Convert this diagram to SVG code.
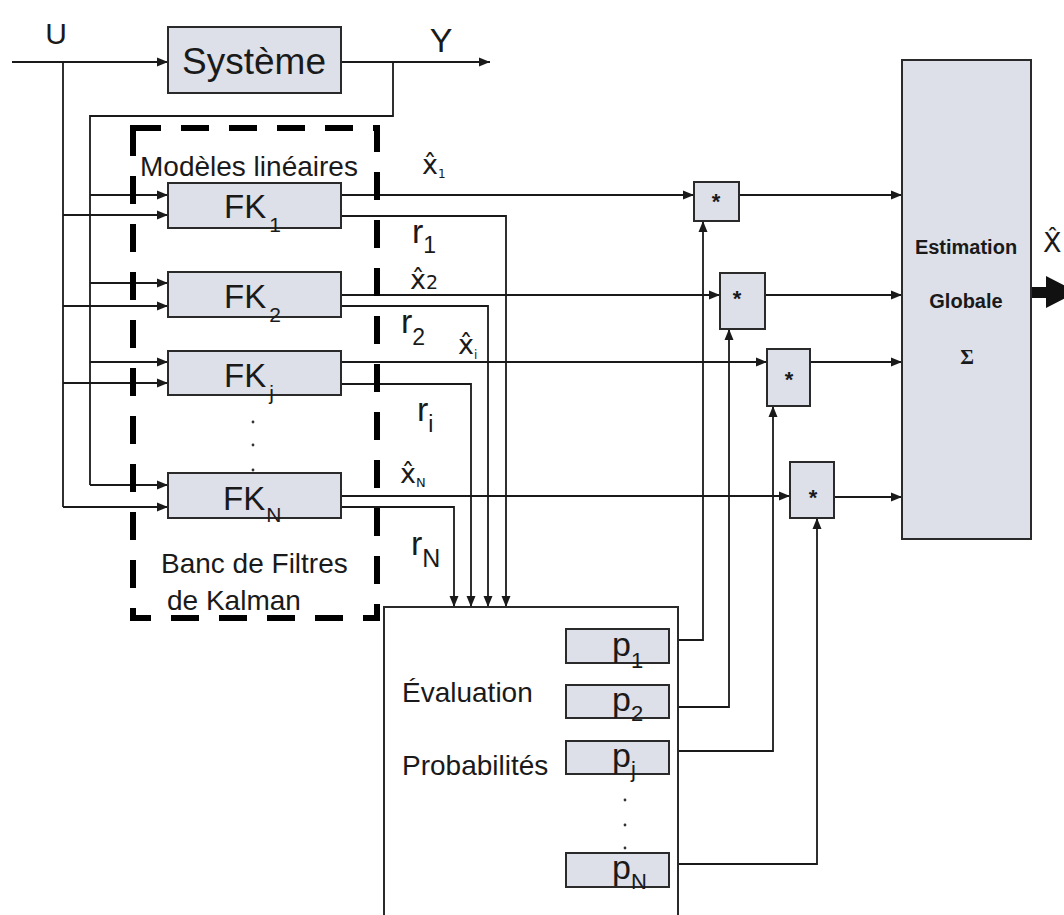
<svg xmlns="http://www.w3.org/2000/svg" width="1064" height="915" viewBox="0 0 1064 915">
<defs>
<marker id="arr" markerUnits="userSpaceOnUse" markerWidth="12" markerHeight="10" refX="11" refY="5" orient="auto">
<path d="M0,0.5 L11,5 L0,9.5 z" fill="#1a1a1a"/>
</marker>
<style>
.ln{fill:none;stroke:#1a1a1a;stroke-width:1.8}
.box{fill:#dde0e9;stroke:#2a2a2a;stroke-width:2}
.wbox{fill:#ffffff;stroke:#2a2a2a;stroke-width:2}
.t{font-family:"Liberation Sans",Arial,sans-serif;fill:#1a1a1a}
.h{font-family:"DejaVu Sans","Liberation Sans",sans-serif;fill:#1a1a1a}
.b{font-weight:bold}
</style>
</defs>
<rect width="1064" height="915" fill="#ffffff"/>

<g id="connectors">
<path class="ln" d="M12,62 H168" marker-end="url(#arr)"/>
<path class="ln" d="M63,62 V507"/>
<path class="ln" d="M63,215 H168" marker-end="url(#arr)"/>
<path class="ln" d="M63,306 H168" marker-end="url(#arr)"/>
<path class="ln" d="M63,383 H168" marker-end="url(#arr)"/>
<path class="ln" d="M63,507 H168" marker-end="url(#arr)"/>
<path class="ln" d="M341,62 H490" marker-end="url(#arr)"/>
<path class="ln" d="M393,62 V116 H90 V485"/>
<path class="ln" d="M90,195 H168" marker-end="url(#arr)"/>
<path class="ln" d="M90,283 H168" marker-end="url(#arr)"/>
<path class="ln" d="M90,362 H168" marker-end="url(#arr)"/>
<path class="ln" d="M90,485 H168" marker-end="url(#arr)"/>
<path class="ln" d="M341,195 H694" marker-end="url(#arr)"/>
<path class="ln" d="M341,295 H720" marker-end="url(#arr)"/>
<path class="ln" d="M341,362 H767" marker-end="url(#arr)"/>
<path class="ln" d="M341,496 H790" marker-end="url(#arr)"/>
<path class="ln" d="M341,216 H506 V607" marker-end="url(#arr)"/>
<path class="ln" d="M341,306 H488 V607" marker-end="url(#arr)"/>
<path class="ln" d="M341,384 H471 V607" marker-end="url(#arr)"/>
<path class="ln" d="M341,507 H454 V607" marker-end="url(#arr)"/>
<path class="ln" d="M739,195 H902" marker-end="url(#arr)"/>
<path class="ln" d="M765,295 H902" marker-end="url(#arr)"/>
<path class="ln" d="M810,362 H902" marker-end="url(#arr)"/>
<path class="ln" d="M834,497 H902" marker-end="url(#arr)"/>
<path class="ln" d="M678,640 H703 V221" marker-end="url(#arr)"/>
<path class="ln" d="M678,707 H729 V329" marker-end="url(#arr)"/>
<path class="ln" d="M678,751 H773 V406" marker-end="url(#arr)"/>
<path class="ln" d="M678,864 H817 V518" marker-end="url(#arr)"/>
<path d="M1031,287 H1046 V276 L1077,292 L1046,308 V298 H1031 z" fill="#111"/>
<text class="t" x="56" y="44" font-size="30" text-anchor="middle">U</text>
<text class="t" x="441" y="52" font-size="34" text-anchor="middle">Y</text>
<g id="labels">
<text class="h" x="422" y="174" font-size="27">x̂<tspan font-size="12" dy="4">1</tspan></text>
<text class="t" x="412" y="243" font-size="34">r<tspan font-size="23" dy="10">1</tspan></text>
<text class="h" x="410" y="289" font-size="27">x̂<tspan font-size="19">2</tspan></text>
<text class="t" x="401" y="333" font-size="34">r<tspan font-size="23" dy="12">2</tspan></text>
<text class="h" x="458" y="354" font-size="27">x̂<tspan font-size="12" dy="5">i</tspan></text>
<text class="t" x="417" y="421" font-size="34">r<tspan font-size="23" dy="11">i</tspan></text>
<text class="h" x="400" y="483" font-size="27">x̂<tspan font-size="13" dy="4">N</tspan></text>
<text class="t" x="411" y="555" font-size="34">r<tspan font-size="25" dy="12">N</tspan></text>
<text class="h" x="1043" y="252" font-size="27">X̂</text>
</g>
</g>

<g id="node-systeme">
<rect class="box" x="168" y="27" width="173" height="66"/>
<text class="t" x="254" y="74" font-size="37" text-anchor="middle">Système</text>
</g>

<g id="node-bank">
<rect x="133" y="128" width="244" height="490" fill="none" stroke="#000" stroke-width="6" stroke-dasharray="28,20"/>
<text class="t" x="140" y="176" font-size="28">Modèles linéaires</text>
<text class="t" x="161" y="573" font-size="28">Banc de Filtres</text>
<text class="t" x="167" y="610" font-size="28">de Kalman</text>
<circle cx="253" cy="422" r="1.4" fill="#333"/>
<circle cx="253" cy="445" r="1.4" fill="#333"/>
<circle cx="253" cy="470" r="1.4" fill="#333"/>
</g>

<g id="node-fk1">
<rect class="box" x="168" y="183" width="173" height="45"/>
<text class="t" x="224" y="218" font-size="33">FK<tspan font-size="21" dy="14" dx="3">1</tspan></text>
</g>
<g id="node-fk2">
<rect class="box" x="168" y="272" width="173" height="45"/>
<text class="t" x="224" y="308" font-size="33">FK<tspan font-size="21" dy="14" dx="3">2</tspan></text>
</g>
<g id="node-fkj">
<rect class="box" x="168" y="351" width="173" height="44"/>
<text class="t" x="224" y="387" font-size="33">FK<tspan font-size="21" dy="13" dx="3">j</tspan></text>
</g>
<g id="node-fkn">
<rect class="box" x="168" y="473" width="173" height="45"/>
<text class="t" x="223" y="510" font-size="33">FK<tspan font-size="21" dy="12" dx="1">N</tspan></text>
</g>

<g id="node-mult1">
<rect class="box" x="694" y="182" width="45" height="39"/>
<text class="t b" x="716" y="209" font-size="22" text-anchor="middle">*</text>
</g>
<g id="node-mult2">
<rect class="box" x="720" y="273" width="45" height="56"/>
<text class="t b" x="737" y="306" font-size="22" text-anchor="middle">*</text>
</g>
<g id="node-mult3">
<rect class="box" x="767" y="349" width="43" height="57"/>
<text class="t b" x="789" y="387" font-size="22" text-anchor="middle">*</text>
</g>
<g id="node-mult4">
<rect class="box" x="790" y="462" width="44" height="56"/>
<text class="t b" x="813" y="505" font-size="22" text-anchor="middle">*</text>
</g>

<g id="node-estimation">
<rect class="box" x="902" y="60" width="129" height="479"/>
<text class="t b" x="966" y="254" font-size="20" text-anchor="middle">Estimation</text>
<text class="t b" x="966" y="308" font-size="20" text-anchor="middle">Globale</text>
<text x="967" y="364" font-size="21" font-weight="bold" font-family="'Liberation Serif',serif" fill="#1a1a1a" text-anchor="middle">Σ</text>
</g>

<g id="node-evaluation">
<rect class="wbox" x="384" y="607" width="294" height="330"/>
<text class="t" x="402" y="702" font-size="28">Évaluation</text>
<text class="t" x="402" y="775" font-size="28">Probabilités</text>
<rect class="box" x="566" y="629" width="103" height="34"/>
<rect class="box" x="566" y="685" width="103" height="33"/>
<rect class="box" x="566" y="741" width="103" height="33"/>
<rect class="box" x="566" y="853" width="103" height="34"/>
<text class="t" x="612" y="656" font-size="34">p<tspan font-size="22" dy="12">1</tspan></text>
<text class="t" x="612" y="711" font-size="34">p<tspan font-size="22" dy="10">2</tspan></text>
<text class="t" x="612" y="767" font-size="34">p<tspan font-size="22" dy="10">j</tspan></text>
<text class="t" x="612" y="879" font-size="34">p<tspan font-size="22" dy="10">N</tspan></text>
<circle cx="625" cy="800" r="1.4" fill="#333"/>
<circle cx="625" cy="825" r="1.4" fill="#333"/>
<circle cx="625" cy="848" r="1.4" fill="#333"/>
</g>
</svg>
